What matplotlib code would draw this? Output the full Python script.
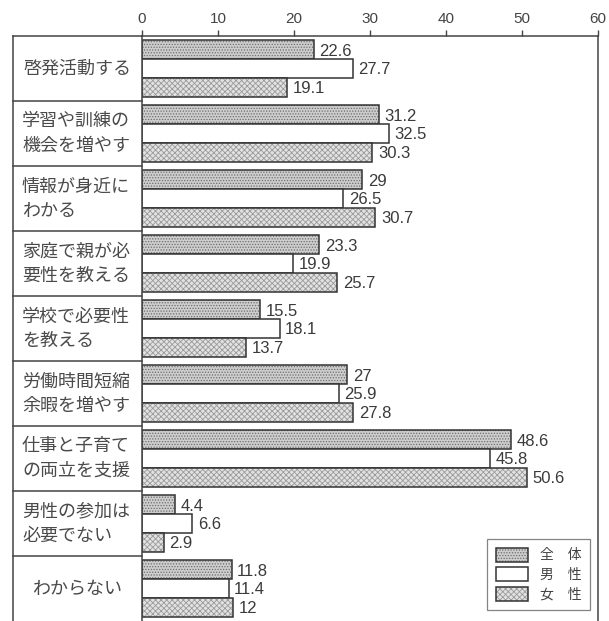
import numpy as np
import matplotlib
matplotlib.use("Agg")
import matplotlib.pyplot as plt
from matplotlib.patches import Patch

plt.rcParams["font.family"] = ["Noto Sans CJK JP", "DejaVu Sans"]
plt.rcParams["hatch.linewidth"] = 0.6

categories = [
    "啓発活動する",
    "学習や訓練の\n機会を増やす",
    "情報が身近に\nわかる",
    "家庭で親が必\n要性を教える",
    "学校で必要性\nを教える",
    "労働時間短縮\n余暇を増やす",
    "仕事と子育て\nの両立を支援",
    "男性の参加は\n必要でない",
    "わからない",
]
total = [22.6, 31.2, 29, 23.3, 15.5, 27, 48.6, 4.4, 11.8]
male = [27.7, 32.5, 26.5, 19.9, 18.1, 25.9, 45.8, 6.6, 11.4]
female = [19.1, 30.3, 30.7, 25.7, 13.7, 27.8, 50.6, 2.9, 12]
series_names = ["全　体", "男　性", "女　性"]
xticks = [0, 10, 20, 30, 40, 50, 60]

W, H = 609, 621
fig = plt.figure(figsize=(W / 100, H / 100), dpi=100)
fig.patch.set_facecolor("white")

x0, x1, ytop = 142, 598, 36
ax = fig.add_axes([x0 / W, 0, (x1 - x0) / W, 1 - ytop / H])

n = len(categories)
y = np.arange(n) + 0.5
h = 0.29
edge = "#333333"
styles = [
    dict(color="#cdcdcd", hatch="......", hc="#6e6e6e"),
    dict(color="white", hatch=None, hc="white"),
    dict(color="#e2e2e2", hatch="xxxxxx", hc="#9a9a9a"),
]
handles = []
for k, (vals, st) in enumerate(zip([total, male, female], styles)):
    pos = y + (k - 1) * h
    ax.barh(pos, vals, height=h, color=st["color"], hatch=st["hatch"],
            edgecolor=st["hc"], linewidth=0)
    ax.barh(pos, vals, height=h, fill=False, edgecolor=edge, linewidth=1.1)
    for p, v in zip(pos, vals):
        ax.annotate(f"{v:g}", (v, p), xytext=(4, -1), textcoords="offset points",
                    ha="left", va="center", fontsize=12, color="#3a3a3a",
                    family="Liberation Sans")
    handles.append((Patch(facecolor=st["color"], hatch=st["hatch"], edgecolor=st["hc"], linewidth=0),
                    Patch(fill=False, edgecolor=edge, linewidth=1.1)))

ax.set_xlim(0, 60)
ax.set_ylim(n, 0)
ax.xaxis.tick_top()
ax.set_xticks(xticks)
ax.tick_params(axis="x", direction="out", length=4, width=1, color="#444",
               labelsize=11, labelcolor="#444", pad=3)
for lab in ax.get_xticklabels():
    lab.set_family("Liberation Sans")
ax.set_yticks([])
ax.spines["bottom"].set_visible(False)
for s in ["top", "left", "right"]:
    ax.spines[s].set_color("#444")
    ax.spines[s].set_linewidth(1.1)

# colonne des libellés
left = (13 - x0) / (x1 - x0)
tr = ax.get_yaxis_transform()
ax.plot([left, left], [0, n], transform=tr, color="#444", lw=1.1, clip_on=False)
ax.plot([left, 0], [0, 0], transform=tr, color="#444", lw=1.1, clip_on=False)
for i in range(1, n):
    ax.plot([left, 0], [i, i], transform=tr, color="#444", lw=1.1, clip_on=False)
tx = (22 - x0) / (x1 - x0)
for i, c in enumerate(categories):
    if "\n" in c:
        ax.text(tx, y[i], c, transform=tr, ha="left", va="center", fontsize=13,
                color="#4a4a4a", linespacing=1.45)
    else:
        ax.text((77 - x0) / (x1 - x0), y[i], c, transform=tr, ha="center",
                va="center", fontsize=13, color="#4a4a4a")

leg = fig.legend(handles, series_names, loc="lower right",
                 bbox_to_anchor=(590 / W, 1 - 610 / H), borderaxespad=0,
                 fontsize=10, frameon=True, fancybox=False, edgecolor="#666",
                 handlelength=2.3, handleheight=1.2, labelspacing=0.35,
                 borderpad=0.6, handletextpad=0.9)
leg.get_frame().set_linewidth(0.9)
for t in leg.get_texts():
    t.set_color("#444")

fig.savefig("out.png", dpi=100, facecolor="white")
